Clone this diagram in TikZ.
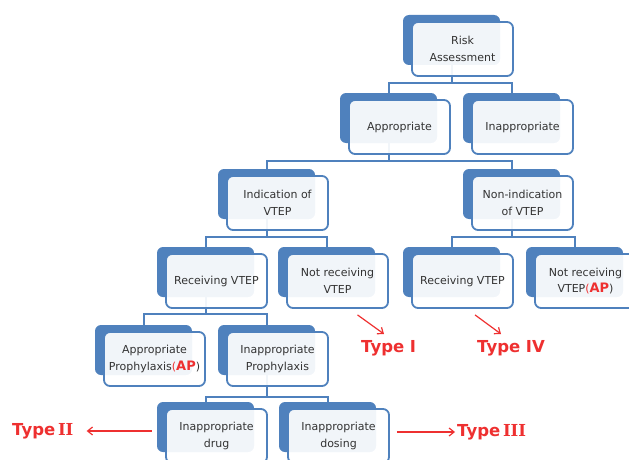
\documentclass[tikz,border=0pt]{standalone}
\usepackage{fontspec}
\setmainfont{DejaVu Sans}
\newfontfamily\numfont{DejaVu Serif}
\usetikzlibrary{arrows.meta,calc,backgrounds}
\definecolor{bblue}{HTML}{4F81BD}
\definecolor{tred}{HTML}{EE3030}
\definecolor{txt}{HTML}{333333}
\tikzset{
 backbox/.style={draw=none, fill=bblue, rounded corners=6pt, minimum width=97pt, minimum height=50pt, inner sep=0pt},
 frontbox/.style={draw=bblue, line width=1.8pt, fill=white, fill opacity=0.92, text opacity=1, rounded corners=6pt, minimum width=101pt, minimum height=54pt, inner sep=0pt, text=txt, align=center, font=\fontsize{11}{16.5}\selectfont},
 conn/.style={draw=bblue, line width=2pt},
 redarrow/.style={draw=tred, line width=1.2pt, -{Straight Barb[length=5pt,width=8pt]}},
 typelabel/.style={text=tred, font=\fontsize{16.5}{18}\selectfont\bfseries, inner sep=0pt, anchor=west},
}
\newcommand\apmark{{\color{tred}(\textbf{\fontsize{13}{16}\selectfont AP}}}
\newcommand\tbox[4]{%
 \node[backbox] (#1) at ({#2+48.5},{#3+25}) {};
 \node[frontbox] (#1-f) at ({#2+59.5},{#3+34}) {#4};}
\begin{document}
\begin{tikzpicture}[x=1pt,y=-1pt]
\useasboundingbox (0,0) rectangle (629,460);
\tbox{ra}{403}{15}{Risk\\Assessment}
\tbox{ap}{340}{93}{Appropriate}
\tbox{inap}{463}{93}{Inappropriate}
\tbox{ind}{218}{169}{Indication of\\VTEP}
\tbox{nonind}{463}{169}{Non-indication\\of VTEP}
\tbox{rec1}{157}{247}{Receiving VTEP}
\tbox{nrec1}{278}{247}{Not receiving\\VTEP}
\tbox{rec2}{403}{247}{Receiving VTEP}
\tbox{nrec2}{526}{247}{Not receiving\\VTEP\apmark)}
\tbox{approp}{95}{325}{Appropriate\\Prophylaxis\apmark)}
\tbox{inprop}{218}{325}{Inappropriate\\Prophylaxis}
\tbox{drug}{157}{402}{Inappropriate\\drug}
\tbox{dosing}{279}{402}{Inappropriate\\dosing}
\begin{scope}[on background layer]
 \coordinate (b1) at (ra.center |- 0,83);
 \coordinate (b2) at (ap.center |- 0,161);
 \coordinate (b3) at (ind.center |- 0,237);
 \coordinate (b4) at (nonind.center |- 0,237);
 \coordinate (b5) at (rec1.center |- 0,314);
 \coordinate (b6) at (inprop.center |- 0,397);
 \draw[conn] (ra.center) -- (b1) -| (ap.north);
 \draw[conn] (b1) -| (inap.north);
 \draw[conn] (ap.center) -- (b2) -| (ind.north);
 \draw[conn] (b2) -| (nonind.north);
 \draw[conn] (ind.center) -- (b3) -| (rec1.north);
 \draw[conn] (b3) -| (nrec1.north);
 \draw[conn] (nonind.center) -- (b4) -| (rec2.north);
 \draw[conn] (b4) -| (nrec2.north);
 \draw[conn] (rec1.center) -- (b5) -| (approp.north);
 \draw[conn] (b5) -| (inprop.north);
 \draw[conn] (inprop.center) -- (b6) -| (drug.north);
 \draw[conn] (b6) -| (dosing.north);
\end{scope}
\node[typelabel] (t1) at (361,348) {Type I};
\node[typelabel] (t4) at (477,348) {Type IV};
\node[typelabel] (t2) at (12,431) {Type\,{\numfont\bfseries II}};
\node[typelabel] (t3) at (457,432) {Type\,{\numfont\bfseries III}};
\draw[redarrow] ($(nrec1-f.south)+(20,6)$) -- ($(t1.west)+(23,-14)$);
\draw[redarrow] ($(rec2-f.south)+(12.5,6)$) -- ($(t4.west)+(24,-14)$);
\draw[redarrow] ($(drug.west |- t2.east)+(-5,0)$) -- ($(t2.east)+(13,0)$);
\draw[redarrow] ($(dosing-f.east |- t3.west)+(7,0)$) -- ($(t3.west)+(-2,0)$);
\end{tikzpicture}
\end{document}
